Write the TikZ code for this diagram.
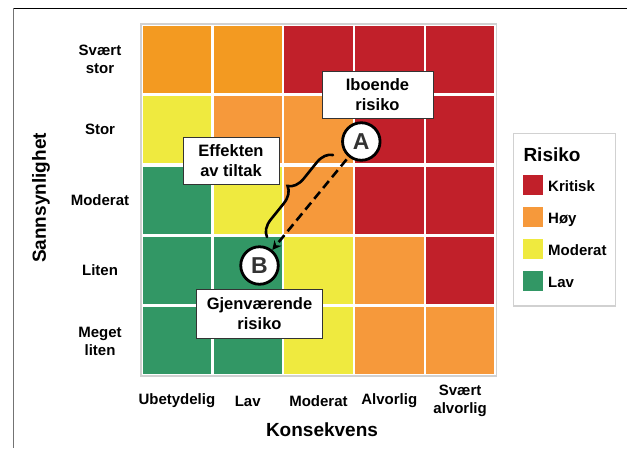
\documentclass[tikz,border=0pt]{standalone}
\usepackage{fontspec}
\setmainfont{Liberation Sans}
\usetikzlibrary{positioning,decorations.pathreplacing,arrows.meta}
\definecolor{kritisk}{HTML}{C1202A}
\definecolor{hoy}{HTML}{F6993B}
\definecolor{hoytopp}{HTML}{F39A21}
\definecolor{moderat}{HTML}{EFEA3F}
\definecolor{lav}{HTML}{329765}
\begin{document}
\begin{tikzpicture}[x=1pt,y=-1pt,
	ticklab/.style={font=\fontsize{15}{18}\selectfont\bfseries,align=center,inner sep=0pt},
	axistitle/.style={font=\fontsize{19}{22}\selectfont\bfseries,inner sep=0pt},
	callout/.style={draw=black!80,line width=1pt,fill=white,align=center,minimum height=47pt,inner sep=2pt,font=\fontsize{16.5}{20}\selectfont\bfseries},
	marker/.style={circle,draw,line width=2.8pt,fill=white,minimum size=37.5pt,inner sep=0pt,text=black!80,font=\fontsize{23}{23}\selectfont\bfseries},
	swatch/.style={minimum size=20pt,inner sep=0pt,outer sep=0pt}]
	\useasboundingbox (0,0) rectangle (627,448);
	\draw[line width=1pt] (13,8) -- (627,8);
	\draw[black!55,line width=1pt] (13,8) -- (13,448);
	\draw[black!18,line width=1.5pt] (141.2,24.2) rectangle (496.3,376);
	\foreach \row [count=\r] in {{hoytopp,hoytopp,kritisk,kritisk,kritisk},{moderat,hoy,hoy,kritisk,kritisk},{lav,moderat,hoy,kritisk,kritisk},{lav,lav,moderat,hoy,kritisk},{lav,lav,moderat,hoy,hoy}}
		\foreach \c [count=\k] in \row
			\fill[\c] ({142.7+(\k-1)*70.8},{25.7+(\r-1)*70.4}) rectangle ++(68.4,67);
	\foreach \t [count=\r] in {{Svært\\stor},Stor,Moderat,Liten,{Meget\\liten}}
		\node[ticklab] (rad\r) at (100,{59.4+(\r-1)*70.4}) {\t};
	\foreach \t [count=\k] in {Ubetydelig,Lav,Moderat,Alvorlig,{Svært\\alvorlig}}
		\node[ticklab] (kol\k) at ({176.9+(\k-1)*70.8},401) {\t};
	\node[axistitle,rotate=90] (ytittel) at (41,198) {Sannsynlighet};
	\node[axistitle] (xtittel) at (322,430) {Konsekvens};
	\node[marker] (A) at (361.3,141.5) {A};
	\node[marker] (B) at (259.5,265.5) {B};
	\node[callout,minimum width=111pt] (iboende) at (377.5,94.5) {Iboende\\risiko};
	\node[callout,minimum width=96pt] (effekt) at (231,160.5) {Effekten\\av tiltak};
	\node[callout,minimum width=126pt,minimum height=49pt,below=3pt of B] (rest) {Gjenværende\\risiko};
	\draw[line width=2.6pt,dash pattern=on 9pt off 5pt,-{Stealth[length=9pt,width=9pt]},shorten <=3pt] (A) -- (B);
	\coordinate (brA) at (333,155);
	\coordinate (brB) at (267,237);
	\draw[line width=2.6pt,line cap=round,decorate,decoration={brace,amplitude=16pt}] (brB) -- (brA);
	\draw[black!18,line width=1.5pt] (513.3,133.3) rectangle (615.5,306);
	\node[axistitle,anchor=west] (legtittel) at (523.3,155) {Risiko};
	\foreach \c/\t [count=\i] in {kritisk/Kritisk,hoy/Høy,moderat/Moderat,lav/Lav}{
		\node[swatch,fill=\c] (felt\i) at (533,{184.7+(\i-1)*32}) {};
		\node[ticklab,anchor=base west] (navn\i) at ([xshift=5pt,yshift=-6.5pt]felt\i.east) {\t};
	}
\end{tikzpicture}
\end{document}
